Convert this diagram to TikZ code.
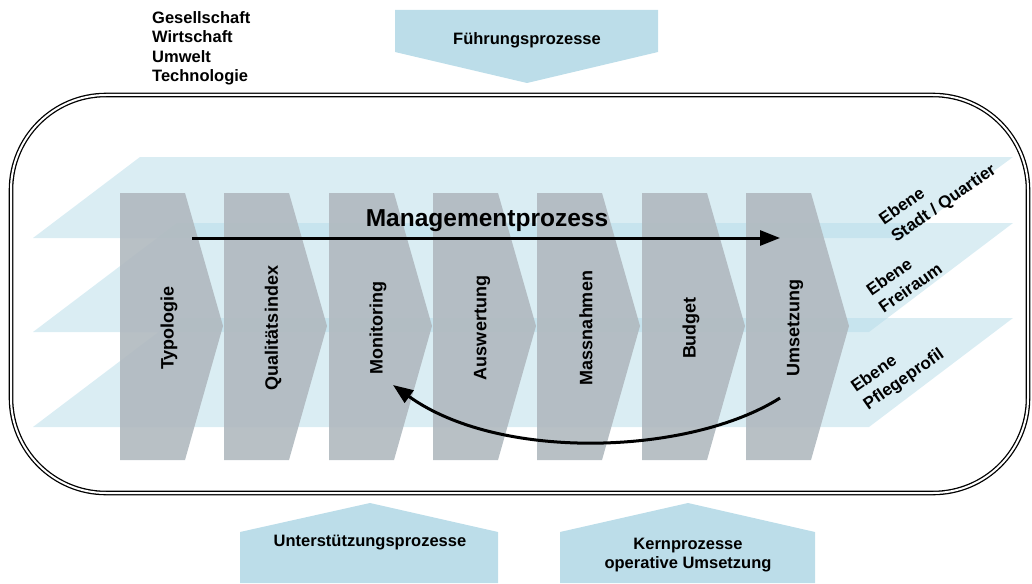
\documentclass[tikz,border=0pt]{standalone}
\usepackage{fontspec}
\setmainfont{Liberation Sans}
\usetikzlibrary{arrows.meta}

\definecolor{ebenenblau}{HTML}{B5DBE8}
\definecolor{prozessblau}{HTML}{BCDDE9}
\definecolor{stufengrau}{HTML}{B0B9BF}

\begin{document}
\begin{tikzpicture}[x=1pt, y=-1pt,
    ebene/.style = {fill=ebenenblau, opacity=0.5},
    stufe/.style = {fill=stufengrau, fill opacity=0.9},
    pfeilblock/.style = {fill=prozessblau},
    txt/.style = {font=\fontsize{16.5}{19.5}\selectfont\bfseries, inner sep=0pt},
    stufentxt/.style = {font=\fontsize{18}{21}\selectfont\bfseries, inner sep=0pt, rotate=90},
    ebenentxt/.style = {font=\fontsize{17}{21.5}\selectfont\bfseries, inner sep=0pt, rotate=35, align=left},
    fluss/.style = {line width=3pt, -{Triangle[length=20pt, width=15pt]}}]
    \useasboundingbox (0,0) rectangle (1032,583);

    % Umfeld und Prozessbloecke
    \node[txt, anchor=north west, align=left] (umfeld) at (152,11) {Gesellschaft\\Wirtschaft\\Umwelt\\Technologie};
    \fill[pfeilblock] (395,10) -- (658,10) -- (658,52) -- (527,83) -- (395,52) -- cycle;
    \node[txt] (fuehrung) at (527,40) {Führungsprozesse};
    \fill[pfeilblock] (240,583) -- (240,532) -- (370,503) -- (498,532) -- (498,583) -- cycle;
    \node[txt] (unterst) at (370,543) {Unterstützungsprozesse};
    \fill[pfeilblock] (560,583) -- (560,532) -- (688,503) -- (815,532) -- (815,583) -- cycle;
    \node[txt, align=center] (kern) at (688,555) {Kernprozesse\\operative Umsetzung};

    % Rahmen
    \draw[double, double distance=2pt, line width=1.3pt, rounded corners=95pt] (11,95) rectangle (1028,493);

    % drei Ebenen
    \fill[ebene] (140,157) -- (1013,157) -- (903,238) -- (33,238) -- cycle;
    \fill[ebene] (177,223) -- (1013,223) -- (869,332) -- (33,332) -- cycle;
    \fill[ebene] (177,318) -- (1013,318) -- (869,427) -- (33,427) -- cycle;

    % Prozessstufen
    \foreach \L/\name [count=\i] in {120/Typologie, 224/Qualitätsindex, 329/Monitoring,
        433/Auswertung, 537/Massnahmen, 642/Budget, 746/Umsetzung} {
        \fill[stufe] (\L,193) -- ++(65,0) -- ++(38,133) -- ++(-38,134) -- ++(-65,0) -- cycle;
        \node[stufentxt] (s\i) at (\L+49,328) {\name};
    }

    \node[font=\fontsize{24.5}{28}\selectfont\bfseries] (mgmt) at (487,221) {Managementprozess};
    \coordinate (mstart) at (192,238);
    \coordinate (mend) at (780,238);
    \draw[fluss] (mstart) -- (mend);
    \coordinate (rstart) at (780,398);
    \coordinate (rend) at (393,385);
    \draw[fluss] (rstart) .. controls (690,455) and (500,462) .. (rend);

    \node[ebenentxt] (e1) at (938,195) {Ebene\\Stadt / Quartier};
    \node[ebenentxt] (e2) at (904,279) {Ebene\\Freiraum};
    \node[ebenentxt] (e3) at (898,371) {Ebene\\Pflegeprofil};
\end{tikzpicture}
\end{document}
